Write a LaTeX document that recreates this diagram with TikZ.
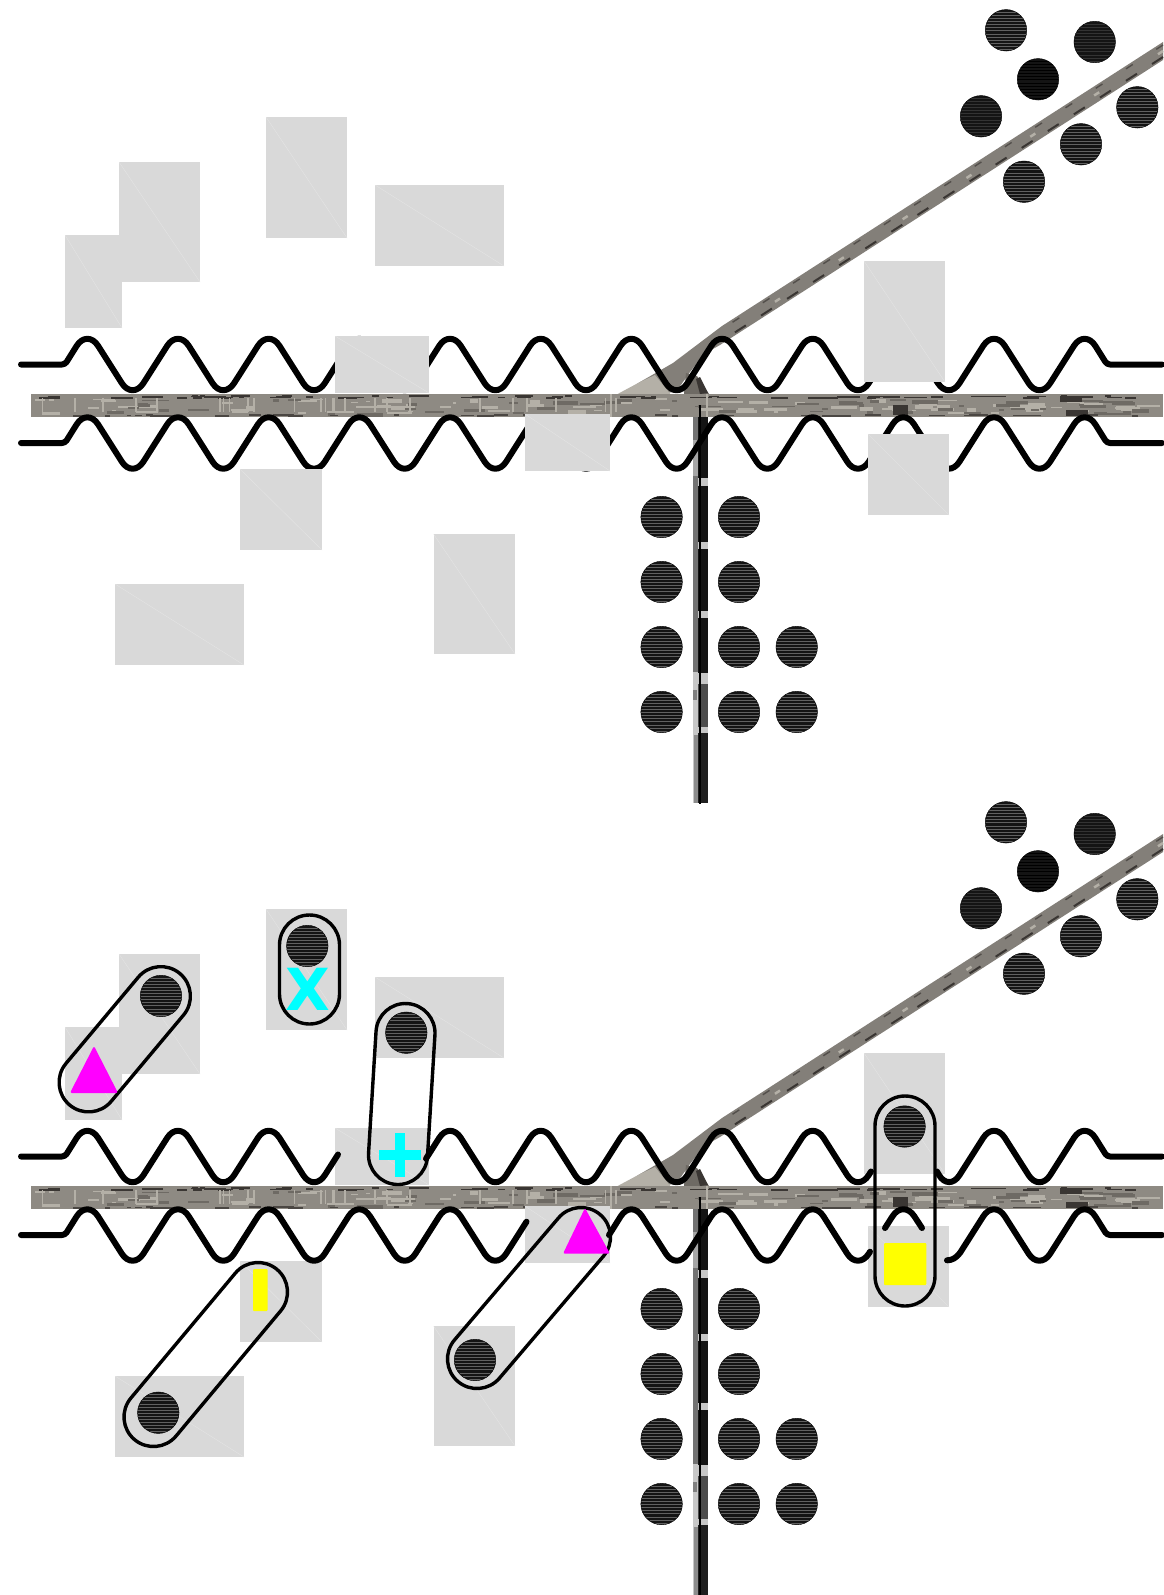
\documentclass[tikz,border=0pt]{standalone}
\usepackage{fontspec}
\newfontfamily\markfont{DejaVu Sans}
\usetikzlibrary{shapes.misc}
\definecolor{rectgray}{HTML}{D9D9D9}
\definecolor{bandbase}{HTML}{8E8A83}
\definecolor{banddark}{HTML}{3A3633}
\definecolor{bandmid}{HTML}{6E6A64}
\definecolor{bandlight}{HTML}{B4B0A7}
\definecolor{puremagenta}{RGB}{255,0,255}
\definecolor{purecyan}{RGB}{0,255,255}
\definecolor{pureyellow}{RGB}{255,255,0}
\tikzset{
  grect/.style={fill=rectgray,draw=none,inner sep=0pt,outer sep=0pt,
    path picture={\draw[line width=.3pt,white!35!rectgray] (path picture bounding box.north west) -- (path picture bounding box.south east);}},
  wavy/.style={line width=6pt,line cap=round,line join=round,black},
  ball/.style={circle,fill=black!92,draw=black,line width=.4pt,inner sep=0pt,outer sep=0pt,minimum size=41.5pt,
    path picture={\foreach \d in {-19,-15.9,...,19}{\draw[line width=.45pt,#1] ([yshift=\d pt]path picture bounding box.west) -- ([yshift=\d pt]path picture bounding box.east);}}},
  ball/.default={black!62},
  capsule/.style={rounded rectangle,draw=black,line width=3.4pt,fill=none,inner sep=0pt,outer sep=0pt},
}
% gray rectangle: name, x0, y0, x1, y1
\newcommand\grectnode[5]{%
  \pgfmathsetmacro\rw{#4-#2}\pgfmathsetmacro\rh{#5-#3}%
  \pgfmathsetmacro\rx{(#2+#4)/2}\pgfmathsetmacro\ry{(#3+#5)/2}%
  \node[grect,minimum width=\rw pt,minimum height=\rh pt] (#1) at (\rx,\ry) {};}
% capsule: name, x1, y1, x2, y2, radius
\newcommand\capsulenode[6]{%
  \pgfmathsetmacro\cl{veclen(#4-#2,#5-#3)+2*#6}\pgfmathsetmacro\ca{atan2(#3-#5,#4-#2)}%
  \pgfmathsetmacro\cd{2*#6}\pgfmathsetmacro\cx{(#2+#4)/2}\pgfmathsetmacro\cy{(#3+#5)/2}%
  \node[capsule,minimum width=\cl pt,minimum height=\cd pt,rotate=\ca] (#1) at (\cx,\cy) {};}
\newcommand\bandart{%
  \pgfmathsetseed{4711}%
  % diagonal branch
  \fill[bandbase!92!black] (1163,42) -- (1163,60) -- (720,345) -- (704,354) -- (690,372) -- (676,392) -- (617,397) -- (640,382) -- (673,363) -- (722,326) -- cycle;
  \fill[bandlight] (612,397) -- (640,382) -- (655,375) -- (672,396) -- cycle;
  \draw[banddark,line width=2pt,dash pattern=on 13pt off 18pt] (1163,57) -- (720,342);
  \draw[banddark!70!bandbase,line width=1.4pt,dash pattern=on 8pt off 28pt] (1163,45) -- (722,329);
  \draw[bandlight,line width=2.5pt,dash pattern=on 6pt off 70pt] (1163,51) -- (722,336);
  \fill[bandmid] (686,373) -- (697,376) -- (709,394) -- (684,394) -- cycle;
  \fill[banddark] (696,379) -- (700,377) -- (708,393) -- (700,394) -- cycle;
  % horizontal band
  \fill[bandbase] (31,394) rectangle (1163,417);
  \foreach \i in {1,...,90}{\pgfmathsetmacro\px{31+rnd*1110}\pgfmathsetmacro\py{398+rnd*15}\pgfmathsetmacro\pw{3+rnd*22}\pgfmathsetmacro\ph{1+rnd*3}
    \fill[bandlight] (\px,\py) rectangle ++(\pw,\ph);}
  \foreach \i in {1,...,60}{\pgfmathsetmacro\px{31+rnd*1110}\pgfmathsetmacro\py{398+rnd*15}\pgfmathsetmacro\pw{4+rnd*24}\pgfmathsetmacro\ph{1+rnd*3}
    \fill[bandmid] (\px,\py) rectangle ++(\pw,\ph);}
  \foreach \i in {1,...,75}{\pgfmathsetmacro\px{31+rnd*1110}\pgfmathsetmacro\py{395+rnd*2.5}\pgfmathsetmacro\pw{4+rnd*18}
    \fill[banddark] (\px,\py) rectangle ++(\pw,1.6);}
  \foreach \i in {1,...,40}{\pgfmathsetmacro\px{31+rnd*1110}\pgfmathsetmacro\py{414+rnd*1.5}\pgfmathsetmacro\pw{4+rnd*18}
    \fill[banddark!80!bandbase] (\px,\py) rectangle ++(\pw,1.5);}
  \foreach \i in {1,...,26}{\pgfmathsetmacro\px{31+rnd*600}
    \fill[bandlight] (\px,398) rectangle ++(1.6,14);}
  \fill[bandlight] (610,394) rectangle (612,417);
  \fill[bandlight] (706,394) rectangle (708,417);
  \fill[banddark] (1060,396) rectangle (1082,402);
  \fill[banddark] (1066,410) rectangle (1088,416);
  \fill[banddark] (893,405) rectangle (908,415);
  % vertical branch
  \fill[black!22] (693,417) rectangle (708,803);
  \fill[black!55] (693,417) rectangle (698,672);
  \fill[black!35] (693,440) rectangle (698,476);
  \fill[black!50] (693,690) rectangle (697,700);
  \fill[black!45] (694,735) rectangle (698,803);
  \fill[black!92] (698,417) rectangle (708,478);
  \fill[black!92] (698,486) rectangle (708,542);
  \fill[black!92] (698,549) rectangle (708,611);
  \fill[black!92] (698,618) rectangle (708,673);
  \fill[black!70] (698,684) rectangle (708,727);
  \fill[black!88] (698,733) rectangle (708,803);
  \draw[black,line width=2.8pt] (700,405) -- (700,804);
}
\newcommand\rectset[1]{%
  \grectnode{#1a}{119}{162}{200}{282}%
  \grectnode{#1b}{65}{235}{122}{328}%
  \grectnode{#1c}{266}{117}{347}{238}%
  \grectnode{#1d}{375}{185}{504}{266}%
  \grectnode{#1e}{335}{336}{429}{393}%
  \grectnode{#1f}{525}{414}{610}{471}%
  \grectnode{#1g}{864}{261}{945}{382}%
  \grectnode{#1h}{868}{434}{949}{515}%
  \grectnode{#1i}{240}{469}{322}{550}%
  \grectnode{#1j}{115}{584}{244}{665}%
  \grectnode{#1k}{433.5}{534}{515}{654}%
}
\newcommand\ballset[1]{%
  \node[ball] (#1p1) at (1006,30.3) {};
  \node[ball=black!80] (#1p2) at (1094.7,42) {};
  \node[ball=black] (#1p3) at (1038,79.3) {};
  \node[ball=black!80] (#1p4) at (981,116.3) {};
  \node[ball] (#1p5) at (1137.3,107.3) {};
  \node[ball] (#1p6) at (1081,144.3) {};
  \node[ball] (#1p7) at (1024,181.7) {};
  \node[ball] (#1q1) at (661.6,517) {};
  \node[ball] (#1q2) at (739,517) {};
  \node[ball] (#1q3) at (661.6,582) {};
  \node[ball] (#1q4) at (739,582) {};
  \node[ball] (#1q5) at (661.6,647) {};
  \node[ball] (#1q6) at (739,647) {};
  \node[ball] (#1q7) at (796.7,647) {};
  \node[ball] (#1q8) at (661.6,712) {};
  \node[ball] (#1q9) at (739,712) {};
  \node[ball] (#1q10) at (796.7,712) {};
}
\newcommand\fullwave{(21,0) [rounded corners=3pt] -- (65,0) [rounded corners=20pt] -- (87.3,-35.6) -- (132.6,35.6) -- (178,-35.6) -- (223.3,35.6) -- (268.7,-35.6) -- (314,35.6) -- (359.3,-35.6) -- (404.7,35.6) -- (450,-35.6) -- (495.4,35.6) -- (540.7,-35.6) -- (586,35.6) -- (631.3,-35.6) -- (676.7,35.6) -- (722,-35.6) -- (767.4,35.6) -- (812.7,-35.6) -- (858,35.6) -- (903.3,-35.6) -- (948.7,35.6) -- (994,-35.6) -- (1039.4,35.6) -- (1084.7,-35.6) [rounded corners=3pt] -- (1107,0) [sharp corners] -- (1162,0)}
\begin{document}
\begin{tikzpicture}[x=1pt,y=-1pt]
\useasboundingbox (0,0) rectangle (1163,1595);
\fill[white] (0,0) rectangle (1163,1595);
% ---------- upper panel ----------
\bandart
\begin{scope}[shift={(0,364.5)}]\draw[wavy] \fullwave;\end{scope}
\begin{scope}[shift={(0,443)}]\draw[wavy] \fullwave;\end{scope}
\rectset{u}
\ballset{u}
% ---------- lower panel ----------
\begin{scope}[shift={(0,792)}]
\bandart
\rectset{l}
\begin{scope}[shift={(0,364.5)}]
\draw[wavy] (21,0) [rounded corners=3pt] -- (65,0) [rounded corners=20pt] -- (87.3,-35.6) -- (132.6,35.6) -- (178,-35.6) -- (223.3,35.6) -- (268.7,-35.6) -- (314,35.6) -- (338,-2);
\draw[wavy] (426,2.2) [rounded corners=20pt] -- (450,-35.6) -- (495.4,35.6) -- (540.7,-35.6) -- (586,35.6) -- (631.3,-35.6) -- (676.7,35.6) -- (722,-35.6) -- (767.4,35.6) -- (812.7,-35.6) -- (858,35.6) -- (871,15);
\draw[wavy] (937,15) [rounded corners=20pt] -- (948.7,35.6) -- (994,-35.6) -- (1039.4,35.6) -- (1084.7,-35.6) [rounded corners=3pt] -- (1107,0) [sharp corners] -- (1162,0);
\end{scope}
\begin{scope}[shift={(0,443)}]
\draw[wavy] (21,0) [rounded corners=3pt] -- (65,0) [rounded corners=20pt] -- (87.3,-35.6) -- (132.6,35.6) -- (178,-35.6) -- (223.3,35.6) -- (268.7,-35.6) -- (314,35.6) -- (359.3,-35.6) -- (404.7,35.6) -- (450,-35.6) -- (495.4,35.6) -- (526.5,-13.3);
\draw[wavy] (609,0) [rounded corners=20pt] -- (631.3,-35.6) -- (676.7,35.6) -- (722,-35.6) -- (767.4,35.6) -- (812.7,-35.6) -- (858,35.6) -- (870,16.7);
\draw[wavy] (885,-7) [rounded corners=20pt] -- (903.3,-35.6) -- (922,-7);
\draw[wavy] (947,25.3) .. controls (952,25.3) and (956,23) .. (960,17.9) [rounded corners=20pt] -- (994,-35.6) -- (1039.4,35.6) -- (1084.7,-35.6) [rounded corners=3pt] -- (1107,0) [sharp corners] -- (1162,0);
\end{scope}
\end{scope}
\capsulenode{capA}{161}{996}{88.5}{1082.5}{29.5}
\capsulenode{capB}{309.5}{945}{309.5}{994}{30}
\capsulenode{capC}{405.5}{1033}{398}{1155}{29.5}
\capsulenode{capD}{258}{1292}{153.5}{1417}{29.5}
\capsulenode{capE}{581}{1237}{477}{1359}{29.5}
\capsulenode{capF}{905}{1126}{905}{1276}{30}
\begin{scope}[shift={(0,792)}]\ballset{l}\end{scope}
\node[ball] (lr1) at (161,996) {};
\node[ball] (lr2) at (307.3,946) {};
\node[ball] (lr3) at (406.3,1032.7) {};
\node[ball] (lr4) at (158.3,1412.7) {};
\node[ball] (lr5) at (475,1360) {};
\node[ball] (lr6) at (904.6,1126.5) {};
% marks
\fill[puremagenta,rounded corners=2pt] (94,1046) -- (118,1093) -- (70,1093) -- cycle;
\fill[puremagenta,rounded corners=2pt] (585,1208) -- (610,1253.7) -- (563,1253.7) -- cycle;
\node[inner sep=0pt,outer sep=0pt,text=purecyan,font=\markfont\bfseries\fontsize{58}{58}\selectfont] (markx) at (308,989) {X};
\fill[purecyan] (378.7,1150) rectangle (421.3,1160);
\fill[purecyan] (395,1133) rectangle (405,1176.7);
\fill[pureyellow,rounded corners=1pt] (253,1269) rectangle (267.7,1311);
\fill[pureyellow,rounded corners=1pt] (884,1243) rectangle (926.4,1285);
\end{tikzpicture}
\end{document}
